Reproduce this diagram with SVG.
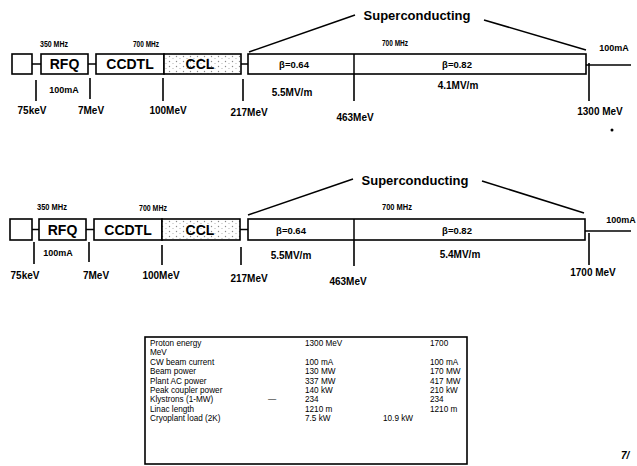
<svg xmlns="http://www.w3.org/2000/svg" width="637" height="466" viewBox="0 0 637 466">
<defs>
<pattern id="speck" width="7" height="5" patternUnits="userSpaceOnUse">
<rect width="7" height="5" fill="#fff"/>
<circle cx="1.5" cy="1.5" r="0.7" fill="#888"/>
<circle cx="5" cy="3.5" r="0.6" fill="#aaa"/>
</pattern>
<style>
.bx{fill:#fff;stroke:#000;stroke-width:1.6}
.ccl{fill:url(#speck);stroke:#000;stroke-width:1.6}
.ln{stroke:#000;stroke-width:1.5;fill:none}
.tk{stroke:#000;stroke-width:1.6;fill:none}
.big{font-family:"Liberation Sans",Arial,sans-serif;font-weight:bold;font-size:14px;fill:#000;text-anchor:middle}
.sc{font-family:"Liberation Sans",Arial,sans-serif;font-weight:bold;font-size:13px;fill:#000;text-anchor:middle}
.lb{font-family:"Liberation Sans",Arial,sans-serif;font-weight:bold;font-size:10px;fill:#000;text-anchor:middle}
.sm{font-family:"Liberation Sans",Arial,sans-serif;font-weight:bold;font-size:9px;fill:#000;text-anchor:middle}
.bt{font-family:"Liberation Sans",Arial,sans-serif;font-weight:bold;font-size:9.5px;fill:#000;text-anchor:middle}
.tb{font-family:"Liberation Sans",Arial,sans-serif;font-size:8.2px;fill:#000}
</style>
</defs>
<rect width="637" height="466" fill="#fff"/>

<!-- ===== Row 1 (1300 MeV) ===== -->
<g id="r1-source"><rect class="bx" x="12" y="54" width="20" height="20"/></g>
<g id="r1-rfq"><rect class="bx" x="41" y="54" width="47" height="20"/><text class="big" x="64.5" y="69">RFQ</text></g>
<g id="r1-ccdtl"><rect class="bx" x="96" y="54" width="68" height="20"/><text class="big" x="130" y="69">CCDTL</text></g>
<g id="r1-ccl"><rect class="ccl" x="164" y="54" width="77" height="20"/><text class="big" x="200" y="69">CCL</text></g>
<g id="r1-sc"><rect class="bx" x="248" y="54" width="338" height="20"/><line class="ln" x1="354" y1="54" x2="354" y2="74"/>
<text class="bt" x="294" y="68">β=0.64</text><text class="bt" x="457" y="68">β=0.82</text></g>
<g id="r1-labels">
<text class="sm" x="54" y="47" textLength="28" lengthAdjust="spacingAndGlyphs">350 MHz</text>
<text class="sm" x="146" y="47" textLength="26" lengthAdjust="spacingAndGlyphs">700 MHz</text>
<text class="sm" x="395" y="46" textLength="26" lengthAdjust="spacingAndGlyphs">700 MHz</text>
<text class="sc" x="417" y="20">Superconducting</text>
<text class="sm" x="64" y="93">100mA</text>
<text class="lb" x="292" y="96">5.5MV/m</text>
<text class="lb" x="458" y="89">4.1MV/m</text>
<text class="sm" x="614" y="51">100mA</text>
<text class="lb" x="32" y="114">75keV</text>
<text class="lb" x="91" y="114">7MeV</text>
<text class="lb" x="168" y="114">100MeV</text>
<text class="lb" x="249" y="116">217MeV</text>
<text class="lb" x="355" y="121">463MeV</text>
<text class="lb" x="600" y="115">1300 MeV</text>
</g>

<!-- ===== Row 2 (1700 MeV) ===== -->
<g id="r2-source"><rect class="bx" x="10" y="219" width="22" height="21"/></g>
<g id="r2-rfq"><rect class="bx" x="39" y="219" width="47" height="21"/><text class="big" x="62.5" y="234.5">RFQ</text></g>
<g id="r2-ccdtl"><rect class="bx" x="94" y="219" width="68" height="21"/><text class="big" x="128" y="234.5">CCDTL</text></g>
<g id="r2-ccl"><rect class="ccl" x="162" y="219" width="78" height="21"/><text class="big" x="200" y="234.5">CCL</text></g>
<g id="r2-sc"><rect class="bx" x="248" y="219" width="337" height="21"/><line class="ln" x1="354" y1="219" x2="354" y2="240"/>
<text class="bt" x="291" y="233.5">β=0.64</text><text class="bt" x="457" y="233.5">β=0.82</text></g>
<g id="r2-labels">
<text class="sm" x="52" y="210" textLength="30" lengthAdjust="spacingAndGlyphs">350 MHz</text>
<text class="sm" x="153" y="211" textLength="28" lengthAdjust="spacingAndGlyphs">700 MHz</text>
<text class="sm" x="397" y="210" textLength="30" lengthAdjust="spacingAndGlyphs">700 MHz</text>
<text class="sc" x="415" y="185">Superconducting</text>
<text class="sm" x="58" y="256">100mA</text>
<text class="lb" x="291" y="259">5.5MV/m</text>
<text class="lb" x="460" y="258">5.4MV/m</text>
<text class="sm" x="621" y="223">100mA</text>
<text class="lb" x="25" y="279">75keV</text>
<text class="lb" x="96" y="279">7MeV</text>
<text class="lb" x="161" y="279">100MeV</text>
<text class="lb" x="249" y="282">217MeV</text>
<text class="lb" x="348" y="285">463MeV</text>
<text class="lb" x="593" y="276">1700 MeV</text>
</g>

<!-- ===== Connectors ===== -->
<g id="connectors">
<line class="ln" x1="32" y1="64" x2="41" y2="64"/>
<line class="ln" x1="88" y1="64" x2="96" y2="64"/>
<line class="ln" x1="241" y1="64" x2="248" y2="64"/>
<line class="ln" x1="586" y1="65" x2="631" y2="65"/>
<line class="tk" x1="36" y1="80" x2="36" y2="101"/>
<line class="tk" x1="90" y1="78" x2="90" y2="99"/>
<line class="tk" x1="163" y1="78" x2="163" y2="101"/>
<line class="tk" x1="243" y1="79" x2="243" y2="101"/>
<line class="tk" x1="354" y1="74" x2="354" y2="101"/>
<line class="tk" x1="589" y1="63" x2="589" y2="101"/>
<line class="ln" x1="249" y1="52" x2="355" y2="15"/>
<line class="ln" x1="484" y1="20" x2="586" y2="50"/>

<line class="ln" x1="32" y1="229.5" x2="39" y2="229.5"/>
<line class="ln" x1="86" y1="229.5" x2="94" y2="229.5"/>
<line class="ln" x1="240" y1="229.5" x2="248" y2="229.5"/>
<line class="ln" x1="585" y1="231" x2="631" y2="231"/>
<line class="tk" x1="34" y1="242" x2="34" y2="264"/>
<line class="tk" x1="89" y1="242" x2="89" y2="262"/>
<line class="tk" x1="162" y1="245" x2="162" y2="265"/>
<line class="tk" x1="241" y1="247" x2="241" y2="265"/>
<line class="tk" x1="354" y1="240" x2="354" y2="266"/>
<line class="tk" x1="589" y1="233" x2="589" y2="265"/>
<line class="ln" x1="248" y1="215" x2="353" y2="179"/>
<line class="ln" x1="482" y1="181" x2="584" y2="213"/>
</g>

<circle cx="612" cy="130" r="1.5" fill="#000"/>

<!-- ===== Parameter table ===== -->
<g id="table">
<rect x="145" y="337" width="322" height="127" fill="#fff" stroke="#000" stroke-width="1.6"/>
<text class="tb" x="150" y="346">Proton energy</text>
<text class="tb" x="150" y="355.4">MeV</text>
<text class="tb" x="150" y="364.8">CW beam current</text>
<text class="tb" x="150" y="374.2">Beam power</text>
<text class="tb" x="150" y="383.6">Plant AC power</text>
<text class="tb" x="150" y="393">Peak coupler power</text>
<text class="tb" x="150" y="402.4">Klystrons (1-MW)</text>
<text class="tb" x="268" y="402.4">—</text>
<text class="tb" x="150" y="411.8">Linac length</text>
<text class="tb" x="150" y="421.2">Cryoplant load (2K)</text>

<text class="tb" x="305" y="346">1300 MeV</text>
<text class="tb" x="305" y="364.8">100 mA</text>
<text class="tb" x="305" y="374.2">130 MW</text>
<text class="tb" x="305" y="383.6">337 MW</text>
<text class="tb" x="305" y="393">140 kW</text>
<text class="tb" x="305" y="402.4">234</text>
<text class="tb" x="305" y="411.8">1210 m</text>
<text class="tb" x="305" y="421.2">7.5 kW</text>

<text class="tb" x="430" y="346">1700</text>
<text class="tb" x="430" y="364.8">100 mA</text>
<text class="tb" x="430" y="374.2">170 MW</text>
<text class="tb" x="430" y="383.6">417 MW</text>
<text class="tb" x="430" y="393">210 kW</text>
<text class="tb" x="430" y="402.4">234</text>
<text class="tb" x="430" y="411.8">1210 m</text>
<text class="tb" x="383" y="421.2">10.9 kW</text>
</g>

<text x="621" y="459" font-family="Liberation Sans, Arial, sans-serif" font-size="10" font-weight="bold" font-style="italic" fill="#000">7/</text>
</svg>
